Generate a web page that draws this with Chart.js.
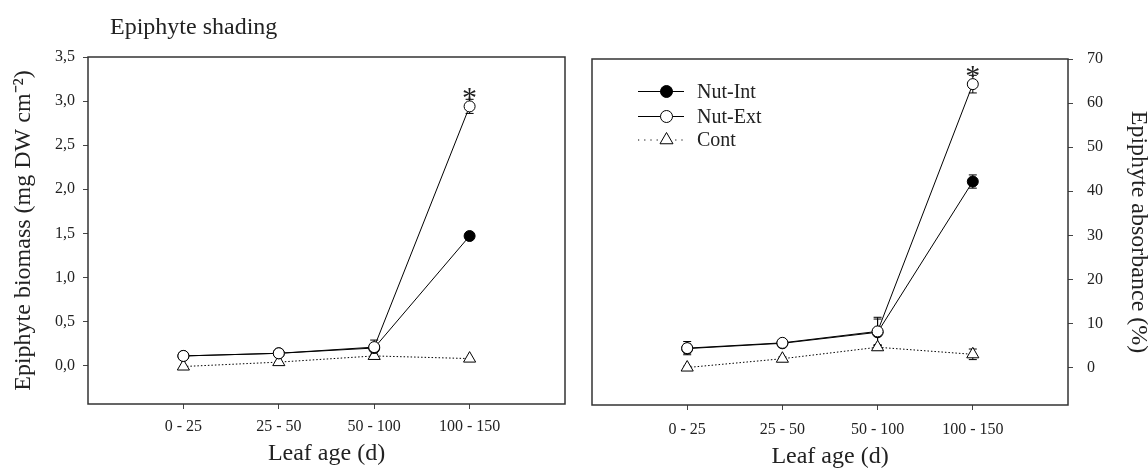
<!DOCTYPE html>
<html>
<head>
<meta charset="utf-8">
<title>Epiphyte shading</title>
<script src="https://cdn.jsdelivr.net/npm/chart.js@4.4.1/dist/chart.umd.min.js"></script>
<style>
  body { margin: 0; background: #fff; overflow: hidden; }
  #wrap { position: relative; width: 1148px; height: 470px; }
  #left { position: absolute; left: 0; top: 0; }
  #right { position: absolute; left: 575px; top: 0; }
  #caption { position: absolute; left: 110px; top: 14px; font: 24px 'Liberation Serif', 'Times New Roman', serif; line-height: 24px; color: #222; }
</style>
</head>
<body>
<div id="wrap">
  <canvas id="left" width="575" height="470"></canvas>
  <canvas id="right" width="573" height="470"></canvas>
  <div id="caption">Epiphyte shading</div>
</div>
<script>
// Leaf age classes
const categories = ['0 - 25', '25 - 50', '50 - 100', '100 - 150'];

// Left panel: epiphyte biomass (mg DW cm-2)
const biomassInt = [0.11, 0.14, 0.20, 1.47];
const biomassExt = [0.11, 0.14, 0.21, 2.94];
const biomassCont = [-0.01, 0.04, 0.11, 0.08];
const biomassIntErr = [0.01, 0.01, 0.03, 0.03];
const biomassExtErr = [0.01, 0.01, 0.08, 0.08];
const biomassContErr = [0.0, 0.01, 0.01, 0.01];
const biomassTicks = [0, 0.5, 1.0, 1.5, 2.0, 2.5, 3.0, 3.5];

// Right panel: epiphyte absorbance (%)
const absorbInt = [4.3, 5.5, 8.0, 42.2];
const absorbExt = [4.4, 5.6, 8.2, 64.3];
const absorbCont = [0.0, 2.0, 4.6, 3.0];
const absorbIntErr = [1.0, 0.3, 3.0, 1.5];
const absorbExtErr = [1.5, 0.4, 3.2, 2.0];
const absorbContErr = [0.3, 0.4, 0.6, 1.2];
const absorbTicks = [0, 10, 20, 30, 40, 50, 60, 70];

const serif = "'Liberation Serif', 'Times New Roman', serif";
const ink = '#222';

function toPoints(values) {
    return values.map((v, i) => ({ x: i + 1, y: v }));
}

function makeDatasets(intVals, extVals, contVals) {
    return [
        {
            label: 'Nut-Int', data: toPoints(intVals), order: 2,
            borderColor: '#000', borderWidth: 1, backgroundColor: '#000',
            pointStyle: 'circle', pointRadius: 5.5, pointBorderWidth: 1
        },
        {
            label: 'Nut-Ext', data: toPoints(extVals), order: 1,
            borderColor: '#000', borderWidth: 1, backgroundColor: '#fff',
            pointStyle: 'circle', pointRadius: 5.5, pointBorderWidth: 1
        },
        {
            label: 'Cont', data: toPoints(contVals), order: 3,
            borderColor: '#000', borderWidth: 1, borderDash: [1.5, 2], backgroundColor: '#fff',
            pointStyle: 'triangle', pointRadius: 7, pointBorderWidth: 1
        }
    ];
}

function drawMarker(ctx, style, x, y, r) {
    ctx.beginPath();
    if (style === 'triangle') {
        let rad = 0;
        ctx.moveTo(x + Math.sin(rad) * r, y - Math.cos(rad) * r);
        rad += 2 * Math.PI / 3;
        ctx.lineTo(x + Math.sin(rad) * r, y - Math.cos(rad) * r);
        rad += 2 * Math.PI / 3;
        ctx.lineTo(x + Math.sin(rad) * r, y - Math.cos(rad) * r);
        ctx.closePath();
    } else {
        ctx.arc(x, y, r, 0, Math.PI * 2);
    }
    ctx.fill();
    ctx.stroke();
}

// Box round the plot area
const framePlugin = {
    id: 'frame',
    afterDraw(chart) {
        const { ctx, chartArea: a } = chart;
        ctx.save();
        ctx.strokeStyle = '#333';
        ctx.lineWidth = 1.5;
        ctx.strokeRect(a.left, a.top, a.right - a.left, a.bottom - a.top);
        ctx.restore();
    }
};

// Vertical error bars, drawn under the markers
const errorBarPlugin = {
    id: 'errorBars',
    beforeDatasetsDraw(chart, args, opts) {
        const { ctx } = chart;
        const yScale = chart.scales.y;
        ctx.save();
        ctx.strokeStyle = '#000';
        ctx.lineWidth = 1;
        opts.errors.forEach((errs, di) => {
            const meta = chart.getDatasetMeta(di);
            const values = chart.data.datasets[di].data;
            errs.forEach((e, j) => {
                if (!e) return;
                const x = meta.data[j].x;
                const yTop = yScale.getPixelForValue(values[j].y + e);
                const yBot = yScale.getPixelForValue(values[j].y - e);
                if (yBot - yTop < 2) return;
                ctx.beginPath();
                ctx.moveTo(x, yTop); ctx.lineTo(x, yBot);
                ctx.moveTo(x - 4, yTop); ctx.lineTo(x + 4, yTop);
                ctx.moveTo(x - 4, yBot); ctx.lineTo(x + 4, yBot);
                ctx.stroke();
            });
        });
        ctx.restore();
    }
};

// Significance asterisk above a point
const starPlugin = {
    id: 'stars',
    afterDatasetsDraw(chart, args, opts) {
        const { ctx } = chart;
        const pt = chart.getDatasetMeta(opts.dataset).data[opts.index];
        ctx.save();
        ctx.fillStyle = ink;
        ctx.font = '30px ' + serif;
        ctx.textAlign = 'center';
        ctx.textBaseline = 'alphabetic';
        ctx.fillText('*', pt.x, pt.y + 1);
        ctx.restore();
    }
};

// Legend with line + marker samples
const lineLegendPlugin = {
    id: 'lineLegend',
    afterDraw(chart, args, opts) {
        if (!opts.show) return;
        const { ctx, chartArea: a } = chart;
        ctx.save();
        chart.data.datasets.forEach((ds, i) => {
            const y = a.top + opts.rows[i];
            ctx.strokeStyle = '#000';
            ctx.lineWidth = 1;
            ctx.setLineDash(ds.borderDash ? [1.2, 5] : []);
            ctx.beginPath();
            ctx.moveTo(a.left + 46, y);
            ctx.lineTo(a.left + 92, y);
            ctx.stroke();
            ctx.setLineDash([]);
            ctx.fillStyle = ds.backgroundColor;
            drawMarker(ctx, ds.pointStyle, a.left + 74.5, y, ds.pointStyle === 'triangle' ? 7.5 : 6);
            ctx.fillStyle = ink;
            ctx.font = '20px ' + serif;
            ctx.textAlign = 'left';
            ctx.textBaseline = 'middle';
            ctx.fillText(ds.label, a.left + 105, y + 1);
        });
        ctx.restore();
    }
};

function makeChart(canvasId, cfg) {
    const ctx = document.getElementById(canvasId).getContext('2d');
    return new Chart(ctx, {
        type: 'line',
        data: { datasets: makeDatasets(cfg.intVals, cfg.extVals, cfg.contVals) },
        plugins: [framePlugin, errorBarPlugin, starPlugin, lineLegendPlugin],
        options: {
            responsive: false,
            animation: false,
            clip: false,
            layout: { padding: cfg.padding },
            plugins: {
                legend: { display: false },
                tooltip: { enabled: false },
                errorBars: { errors: cfg.errors },
                stars: { dataset: 1, index: 3 },
                lineLegend: { show: cfg.legend, rows: [32.5, 57.5, 81] }
            },
            scales: {
                x: {
                    type: 'linear',
                    min: 0,
                    max: 5,
                    afterBuildTicks: (scale) => {
                        scale.ticks = categories.map((c, i) => ({ value: i + 1 }));
                    },
                    afterFit: (scale) => { scale.height = cfg.xHeight; },
                    border: { display: false },
                    grid: { drawOnChartArea: false, drawTicks: true, tickLength: 5, color: '#444' },
                    ticks: {
                        padding: cfg.xTickPad,
                        color: ink,
                        font: { family: serif, size: 16 },
                        maxRotation: 0,
                        callback: (v) => categories[v - 1]
                    },
                    title: {
                        display: true,
                        text: 'Leaf age (d)',
                        color: ink,
                        font: { family: serif, size: 24 },
                        padding: { top: 0, bottom: cfg.xTitlePad }
                    }
                },
                y: {
                    type: 'linear',
                    position: cfg.yPosition,
                    min: cfg.yMin,
                    max: cfg.yMax,
                    afterBuildTicks: (scale) => {
                        scale.ticks = cfg.yTicks.map(v => ({ value: v }));
                    },
                    afterFit: (scale) => { scale.width = cfg.yWidth; },
                    border: { display: false },
                    grid: { drawOnChartArea: false, drawTicks: true, tickLength: 5, color: '#444' },
                    ticks: {
                        padding: cfg.yTickPad,
                        color: ink,
                        font: { family: serif, size: 16 },
                        callback: cfg.yFormat
                    },
                    title: {
                        display: true,
                        text: cfg.yTitle,
                        color: ink,
                        font: { family: serif, size: 24 },
                        padding: { top: cfg.yTitlePad, bottom: 0 }
                    }
                }
            }
        }
    });
}

makeChart('left', {
    intVals: biomassInt, extVals: biomassExt, contVals: biomassCont,
    errors: [biomassIntErr, biomassExtErr, biomassContErr],
    yTicks: biomassTicks, yMin: -0.435, yMax: 3.5, yPosition: 'left',
    yFormat: (v) => v.toFixed(1).replace('.', ','),
    yTitle: 'Epiphyte biomass (mg DW cm\u207B\u00B2)',
    yWidth: 88, yTickPad: 8, yTitlePad: 9,
    xHeight: 66, xTickPad: 8, xTitlePad: 1.5,
    padding: { top: 57, right: 10, bottom: 0, left: 0 },
    legend: false
});

makeChart('right', {
    intVals: absorbInt, extVals: absorbExt, contVals: absorbCont,
    errors: [absorbIntErr, absorbExtErr, absorbContErr],
    yTicks: absorbTicks, yMin: -8.5, yMax: 70, yPosition: 'right',
    yFormat: (v) => String(v),
    yTitle: 'Epiphyte absorbance (%)',
    yWidth: 80, yTickPad: 14, yTitlePad: -5,
    xHeight: 65, xTickPad: 10, xTitlePad: -1.5,
    padding: { top: 59, right: 0, bottom: 0, left: 17 },
    legend: true
});
</script>
</body>
</html>
